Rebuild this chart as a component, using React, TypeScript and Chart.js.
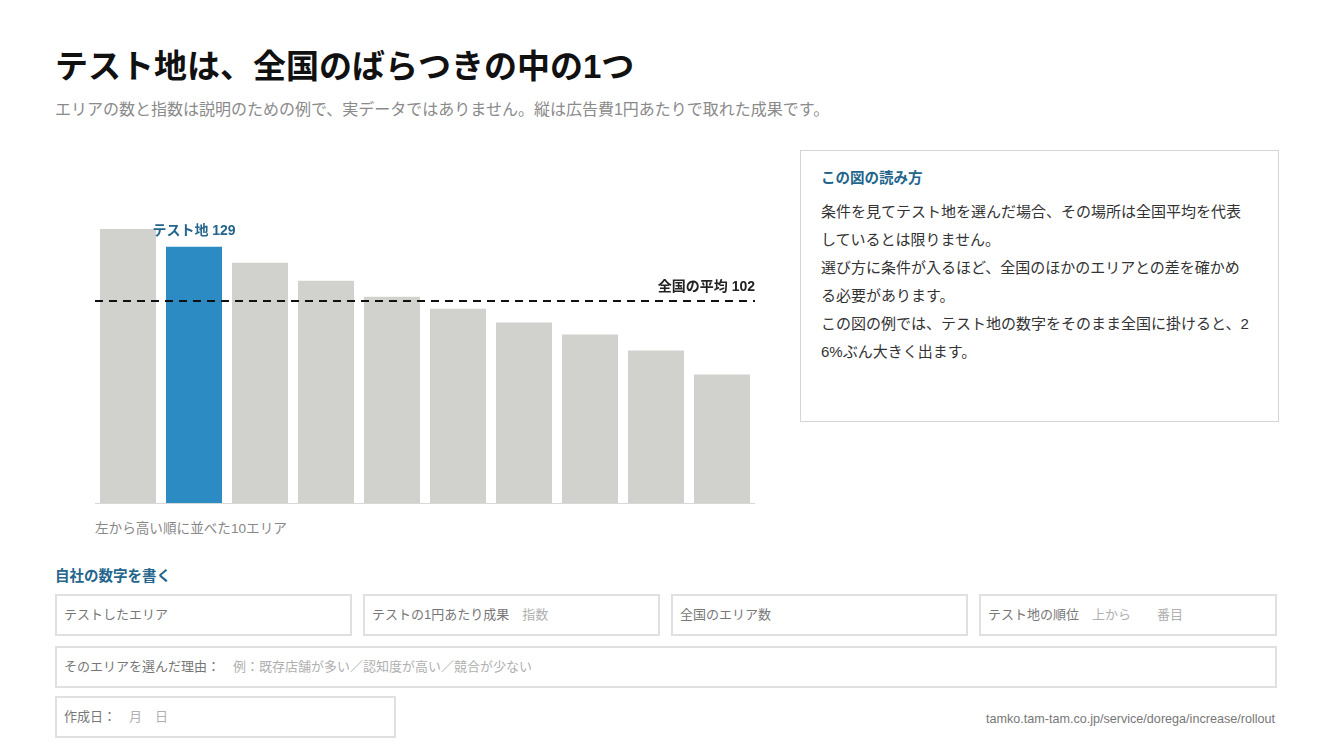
import React, { useEffect, useRef } from 'react';
import { Chart, registerables } from 'chart.js';
import type { Plugin } from 'chart.js';

Chart.register(...registerables);

// 左から高い順に並べた10エリア（説明用の例）
const areaLabels = ['1', '2', '3', '4', '5', '6', '7', '8', '9', '10'];
const areaValues = [138, 129, 121, 112, 104, 98, 91, 85, 77, 65];
const testIndex = 1;
const nationalAverage = 102;
const yMax = 150;

const FONT = "'Liberation Sans', 'Noto Sans CJK JP', sans-serif";
const GRAY_BAR = '#d1d1ce';
const BLUE_BAR = '#2d8bc4';
const BLUE_TEXT = '#23658c';

const overlayPlugin: Plugin<'bar'> = {
  id: 'overlay',
  afterDatasetsDraw(chart) {
    const { ctx, chartArea, scales } = chart;
    const y = scales.y;
    const base = y.getPixelForValue(0);

    ctx.save();
    // baseline
    ctx.strokeStyle = '#d8d8d8';
    ctx.lineWidth = 1;
    ctx.beginPath();
    ctx.moveTo(chartArea.left, base - 0.5);
    ctx.lineTo(chartArea.right, base - 0.5);
    ctx.stroke();

    // national average
    const avgY = Math.round(y.getPixelForValue(nationalAverage));
    ctx.strokeStyle = '#111';
    ctx.lineWidth = 2;
    ctx.setLineDash([8, 6]);
    ctx.beginPath();
    ctx.moveTo(chartArea.left, avgY);
    ctx.lineTo(chartArea.right, avgY);
    ctx.stroke();
    ctx.setLineDash([]);

    ctx.font = `bold 14px ${FONT}`;
    ctx.fillStyle = '#222';
    ctx.textAlign = 'right';
    ctx.textBaseline = 'bottom';
    ctx.fillText(`全国の平均 ${nationalAverage}`, chartArea.right, avgY - 7);

    // test area label
    const bar = chart.getDatasetMeta(0).data[testIndex];
    ctx.fillStyle = BLUE_TEXT;
    ctx.textAlign = 'center';
    ctx.fillText(`テスト地 ${areaValues[testIndex]}`, bar.x, bar.y - 9);
    ctx.restore();
  },
};

const BarChart: React.FC = () => {
  const canvasRef = useRef<HTMLCanvasElement>(null);

  useEffect(() => {
    if (!canvasRef.current) return;
    const chart = new Chart(canvasRef.current, {
      type: 'bar',
      data: {
        labels: areaLabels,
        datasets: [
          {
            data: areaValues,
            backgroundColor: areaValues.map((_, i) => (i === testIndex ? BLUE_BAR : GRAY_BAR)),
            borderWidth: 0,
            barPercentage: 56 / 66,
            categoryPercentage: 1,
          },
        ],
      },
      options: {
        animation: false,
        responsive: false,
        maintainAspectRatio: false,
        layout: { padding: 0 },
        plugins: {
          legend: { display: false },
          tooltip: { enabled: false },
        },
        scales: {
          x: { display: false },
          y: { display: false, min: 0, max: yMax },
        },
      },
      plugins: [overlayPlugin],
    });
    return () => chart.destroy();
  }, []);

  return (
    <canvas
      ref={canvasRef}
      width={660}
      height={299}
      style={{ position: 'absolute', left: 95, top: 205, width: 660, height: 299 }}
    />
  );
};

const abs = (left: number, top: number, extra: React.CSSProperties = {}): React.CSSProperties => ({
  position: 'absolute',
  left,
  top,
  whiteSpace: 'nowrap',
  ...extra,
});

const Field: React.FC<{ x: number; y: number; w: number; label: string; hint?: string }> = ({
  x,
  y,
  w,
  label,
  hint,
}) => (
  <div
    style={{
      position: 'absolute',
      left: x,
      top: y,
      width: w,
      height: 42,
      boxSizing: 'border-box',
      border: '2px solid #e0e0e0',
      fontSize: 13,
      lineHeight: '38px',
      paddingLeft: 7,
      color: '#777',
      whiteSpace: 'pre',
    }}
  >
    {label}
    {hint && <span style={{ color: '#b0b0b0' }}>{hint}</span>}
  </div>
);

const noteLines = [
  '条件を見てテスト地を選んだ場合、その場所は全国平均を代表',
  'しているとは限りません。',
  '選び方に条件が入るほど、全国のほかのエリアとの差を確かめ',
  'る必要があります。',
  'この図の例では、テスト地の数字をそのまま全国に掛けると、2',
  '6%ぶん大きく出ます。',
];

const App: React.FC = () => {
  useEffect(() => {
    document.body.style.margin = '0';
  }, []);

  return (
    <div
      style={{
        position: 'relative',
        width: 1334,
        height: 750,
        background: '#fff',
        fontFamily: FONT,
        overflow: 'hidden',
      }}
    >
      <div style={abs(55, 50, { fontSize: 33, lineHeight: '34px', fontWeight: 700, color: '#111' })}>
        テスト地は、全国のばらつきの中の1つ
      </div>
      <div style={abs(55, 101, { fontSize: 16, lineHeight: '18px', color: '#8a8a8a' })}>
        エリアの数と指数は説明のための例で、実データではありません。縦は広告費1円あたりで取れた成果です。
      </div>

      <BarChart />
      <div style={abs(95, 521, { fontSize: 13.6, lineHeight: '16px', color: '#888' })}>
        左から高い順に並べた10エリア
      </div>

      <div
        style={{
          position: 'absolute',
          left: 800,
          top: 150,
          width: 479,
          height: 272,
          boxSizing: 'border-box',
          border: '1px solid #d4d4d4',
        }}
      >
        <div style={abs(20, 19, { fontSize: 14.5, lineHeight: '16px', fontWeight: 700, color: BLUE_TEXT })}>
          この図の読み方
        </div>
        <div style={abs(20, 47, { fontSize: 15, lineHeight: '28px', color: '#333' })}>
          {noteLines.map((l) => (
            <div key={l}>{l}</div>
          ))}
        </div>
      </div>

      <div style={abs(55, 568, { fontSize: 14.5, lineHeight: '16px', fontWeight: 700, color: BLUE_TEXT })}>
        自社の数字を書く
      </div>

      <Field x={55} y={594} w={297} label="テストしたエリア" />
      <Field x={363} y={594} w={297} label="テストの1円あたり成果　" hint="指数" />
      <Field x={671} y={594} w={297} label="全国のエリア数" />
      <Field x={979} y={594} w={298} label="テスト地の順位　" hint={'上から\u3000\u3000番目'} />
      <Field
        x={55}
        y={646}
        w={1222}
        label="そのエリアを選んだ理由：　"
        hint="例：既存店舗が多い／認知度が高い／競合が少ない"
      />
      <Field x={55} y={696} w={341} label="作成日：　" hint={'月\u3000日'} />

      <div style={abs(0, 711, { width: 1275, textAlign: 'right', fontSize: 12.6, lineHeight: '16px', color: '#777' })}>
        tamko.tam-tam.co.jp/service/dorega/increase/rollout
      </div>
    </div>
  );
};

export default App;
